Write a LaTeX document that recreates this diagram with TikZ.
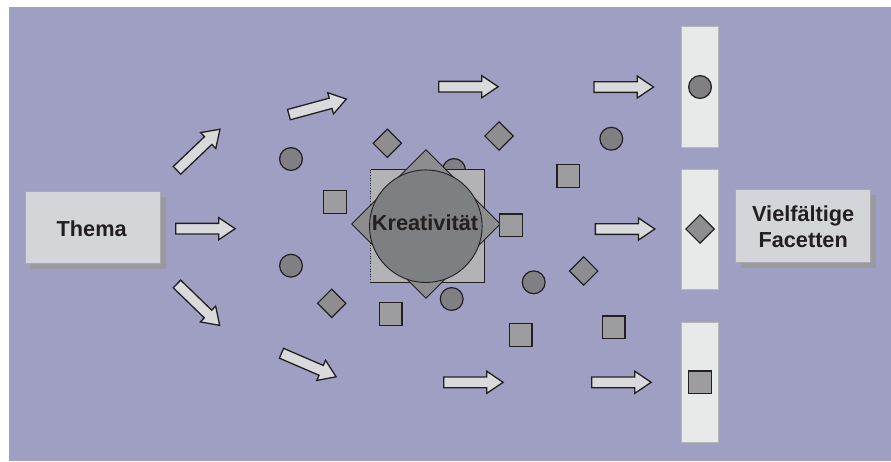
\documentclass[tikz,border=0pt]{standalone}
\usepackage{fontspec}
\setmainfont{Liberation Sans}
\usetikzlibrary{shapes.geometric,shapes.arrows}
\definecolor{bgc}{RGB}{159,159,196}
\definecolor{ink}{RGB}{35,31,32}
\definecolor{arrowc}{RGB}{217,218,220}
\definecolor{circc}{RGB}{128,128,132}
\definecolor{diamc}{RGB}{142,142,145}
\definecolor{sqc}{RGB}{157,157,159}
\definecolor{bigsqc}{RGB}{179,179,181}
\definecolor{bigdiamc}{RGB}{141,141,144}
\definecolor{bigcircc}{RGB}{126,127,131}
\definecolor{barc}{RGB}{232,233,233}
\definecolor{barline}{RGB}{183,184,186}
\definecolor{boxc}{RGB}{212,213,216}
\definecolor{boxline}{RGB}{168,169,173}
\definecolor{shadowc}{RGB}{154,154,158}
\begin{document}
\begin{tikzpicture}[x=1pt,y=-1pt,
  blkarrow/.style={single arrow, draw=ink, fill=arrowc, line width=1.3pt, inner sep=0pt,
    text height=4.7pt, text depth=4.7pt, single arrow head extend=5.65pt,
    single arrow tip angle=68, minimum height=59.5pt, anchor=tail},
  circ/.style={circle, draw=ink, fill=circc, line width=1.2pt, minimum size=22.8pt, inner sep=0pt},
  diam/.style={diamond, draw=ink, fill=diamc, line width=1.2pt, minimum size=28.8pt, inner sep=0pt},
  sq/.style={rectangle, draw=ink, fill=sqc, line width=1.2pt, minimum size=22.8pt, inner sep=0pt},
  barbox/.style={rectangle, draw=barline, fill=barc, line width=0.8pt, minimum width=36.6pt, minimum height=120.3pt, inner sep=0pt},
  labelbox/.style={rectangle, draw=boxline, fill=boxc, line width=1pt, minimum width=135pt, inner sep=0pt},
  boxtext/.style={font=\bfseries\fontsize{21.7}{25.6}\selectfont, text=ink, align=center, anchor=base, inner sep=0pt}
]
\useasboundingbox (0,0) rectangle (891,461);
\fill[white] (0,0) rectangle (891,461);
\fill[bgc] (9,7) rectangle (891,461);

% Thema box
\fill[shadowc] (30,196.5) rectangle (165.7,269.3);
\node[labelbox, minimum height=72.3pt] (thema) at (92.5,227.2) {};
\node[boxtext] (thematext) at (91.7,236.7) {Thema};

% Facetten box
\fill[shadowc] (740.7,194.5) rectangle (875.7,268.3);
\node[labelbox, minimum height=73.3pt] (facetten) at (803.2,225.7) {};
\node[boxtext] (facettentext) at (803.2,247.3) {Vielfältige\\Facetten};

% bars
\node[barbox] (bar1) at (700,86.85) {};
\node[barbox] (bar2) at (700,229.2) {};
\node[barbox] (bar3) at (700,382.35) {};
\node[circ] (barcirc) at (700,87) {};
\node[diam] (bardiam) at (700,229) {};
\node[sq] (barsq) at (700,382.3) {};

% arrows (placed by their tails)
\node[blkarrow, rotate=43.7] (a1) at (176.5,170.8) {};
\node[blkarrow] (a2) at (175,228.7) {};
\node[blkarrow, rotate=-44.1] (a3) at (176.5,283.5) {};
\node[blkarrow, rotate=15.2] (a4) at (288.3,114.8) {};
\node[blkarrow, rotate=-23.3] (a5) at (280.9,353) {};
\node[blkarrow] (a6) at (438,86.7) {};
\node[blkarrow] (a7) at (443,382.3) {};
\node[blkarrow] (a8) at (593.4,87) {};
\node[blkarrow] (a9) at (594.7,229) {};
\node[blkarrow] (a10) at (591,382.3) {};

% small shape behind centre
\node[circ] (c3) at (454,170) {};

% centre: Kreativitaet
\fill[bigsqc] (370.7,169.7) rectangle (484.3,282.7);
\draw[ink, line width=1pt] (370.7,169.7) -- (484.3,169.7) -- (484.3,282.7) -- (370.7,282.7);
\draw[ink, line width=0.6pt, dotted] (370.7,169.7) -- (370.7,282.7);
\node[diamond, draw=ink, fill=bigdiamc, line width=0.9pt, minimum size=149pt, inner sep=0pt] (bigdiam) at (426,224) {};
\node[circle, draw=ink, fill=bigcircc, line width=0.9pt, minimum size=112.6pt, inner sep=0pt] (bigcirc) at (425.8,226.2) {};
\node[boxtext, text=ink] (kreatext) at (425,230.7) {Kreativität};

% scattered shapes
\node[circ] (c1) at (291,159) {};
\node[circ] (c2) at (291,265.7) {};
\node[circ] (c4) at (451.7,299) {};
\node[circ] (c5) at (533.7,282.3) {};
\node[circ] (c6) at (611.3,138.7) {};
\node[diam] (d1) at (387.3,143.3) {};
\node[diam] (d2) at (331.7,303.3) {};
\node[diam] (d3) at (499,136) {};
\node[diam] (d4) at (583.7,271) {};
\node[sq] (s1) at (334.7,202) {};
\node[sq] (s2) at (390.5,314) {};
\node[sq] (s3) at (568.3,175.8) {};
\node[sq] (s4) at (511.2,225.3) {};
\node[sq] (s5) at (520.5,335.2) {};
\node[sq] (s6) at (613.5,327.3) {};
\end{tikzpicture}
\end{document}
